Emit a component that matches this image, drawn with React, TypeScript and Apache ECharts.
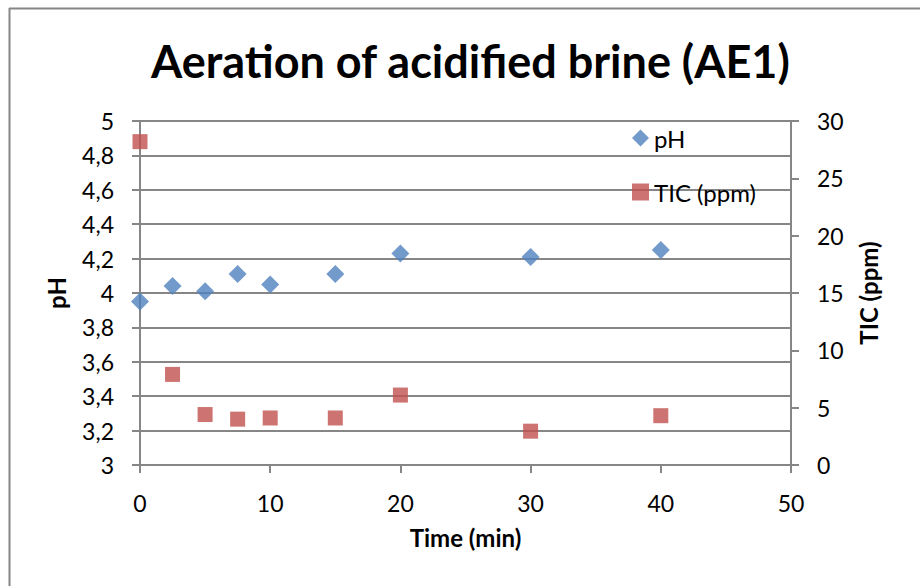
import React, { useEffect, useRef } from "react";
import * as echarts from "echarts";

const timeMin = [0, 2.5, 5, 7.5, 10, 15, 20, 30, 40];
const phValues = [3.95, 4.04, 4.01, 4.11, 4.05, 4.11, 4.23, 4.21, 4.25];
const ticValues = [28.2, 7.9, 4.4, 4.0, 4.1, 4.1, 6.1, 2.95, 4.3];

const titleText = "Aeration of acidified brine (AE1)";
const xName = "Time (min)";
const yLeftName = "pH";
const yRightName = "TIC (ppm)";
const FONT = "Lato";

export default function App() {
  const ref = useRef<HTMLDivElement>(null);
  useEffect(() => {
    if (!ref.current) return;
    const chart = echarts.init(ref.current, undefined, { renderer: "svg" });
    const axisGray = "#868686";
    const labelStyle = { color: "#000", fontFamily: FONT, fontSize: 23 };
    const nameStyle = { fontFamily: FONT, fontWeight: "bold", fontSize: 24, color: "#000" };
    chart.setOption({
      animation: false,
      backgroundColor: "#fff",
      title: {
        text: titleText,
        left: 146,
        top: 33,
        textStyle: { fontFamily: FONT, fontWeight: "bold", fontSize: 45, color: "#000" },
      },
      legend: {
        orient: "vertical",
        left: 627,
        top: 121,
        itemGap: 30,
        itemWidth: 17,
        itemHeight: 17,
        textStyle: { fontFamily: FONT, fontSize: 24, color: "#000" },
        data: [
          { name: "pH", icon: "diamond" },
          { name: "TIC (ppm)", icon: "rect" },
        ],
      },
      graphic: [
        { type: "line", shape: { x1: 9.5, y1: 8, x2: 9.5, y2: 586 }, style: { stroke: axisGray, lineWidth: 2 } },
        { type: "line", shape: { x1: 9, y1: 8.5, x2: 920, y2: 8.5 }, style: { stroke: axisGray, lineWidth: 2 } },
      ],
      grid: { left: 140, right: 129, top: 121, bottom: 121, containLabel: false },
      xAxis: {
        type: "value",
        min: 0,
        max: 50,
        interval: 10,
        name: xName,
        nameLocation: "middle",
        nameGap: 60,
        nameTextStyle: nameStyle,
        axisLine: { show: true, lineStyle: { color: axisGray, width: 2 } },
        axisTick: { show: true, inside: false, length: 8, lineStyle: { color: axisGray, width: 2 } },
        axisLabel: { ...labelStyle, margin: 26 },
        splitLine: { show: false },
      },
      yAxis: [
        {
          type: "value",
          min: 3,
          max: 5,
          interval: 0.2,
          position: "left",
          name: yLeftName,
          nameLocation: "middle",
          nameGap: 72,
          nameRotate: 90,
          nameTextStyle: nameStyle,
          axisLine: { show: true, lineStyle: { color: axisGray, width: 2 } },
          axisTick: { show: true, inside: false, length: 8, lineStyle: { color: axisGray, width: 2 } },
          axisLabel: {
            ...labelStyle,
            margin: 26,
            formatter: (v: number) => String(Math.round(v * 10) / 10).replace(".", ","),
          },
          splitLine: { show: true, lineStyle: { color: axisGray, width: 2 } },
        },
        {
          type: "value",
          min: 0,
          max: 30,
          interval: 5,
          position: "right",
          name: yRightName,
          nameLocation: "middle",
          nameGap: 65,
          nameRotate: 90,
          nameTextStyle: nameStyle,
          axisLine: { show: true, lineStyle: { color: axisGray, width: 2 } },
          axisTick: { show: true, inside: false, length: 8, lineStyle: { color: axisGray, width: 2 } },
          axisLabel: { ...labelStyle, margin: 26 },
          splitLine: { show: false },
        },
      ],
      series: [
        {
          name: "pH",
          type: "scatter",
          yAxisIndex: 0,
          symbol: "diamond",
          symbolSize: 18,
          itemStyle: { color: "#4F81BD" },
          data: timeMin.map((t, i) => [t, phValues[i]]),
        },
        {
          name: "TIC (ppm)",
          type: "scatter",
          yAxisIndex: 1,
          symbol: "rect",
          symbolSize: 15,
          itemStyle: { color: "#C0504D" },
          data: timeMin.map((t, i) => [t, ticValues[i]]),
        },
      ],
    });
    return () => chart.dispose();
  }, []);
  return (
    <div
      ref={ref}
      style={{ position: "fixed", left: 0, top: 0, width: 920, height: 586 }}
    />
  );
}
